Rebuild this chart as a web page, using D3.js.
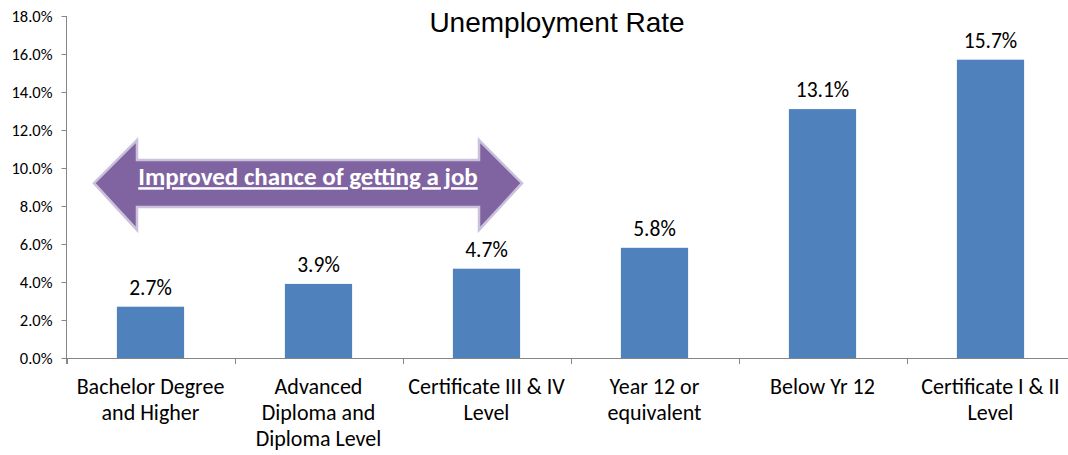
<!DOCTYPE html>
<html>
<head>
<meta charset="utf-8">
<script src="https://cdn.jsdelivr.net/npm/d3@7"></script>
<style>
  html, body { margin: 0; padding: 0; background: #fff; }
  svg { display: block; }
</style>
</head>
<body>
<svg id="chart" width="1068" height="455"></svg>
<script>
// Education level categories (line breaks mark label wrapping)
const categories = [
  "Bachelor Degree\nand Higher",
  "Advanced\nDiploma and\nDiploma Level",
  "Certificate III & IV\nLevel",
  "Year 12 or\nequivalent",
  "Below Yr 12",
  "Certificate I & II\nLevel"
];
// Unemployment rate per category
const rates = [0.027, 0.039, 0.047, 0.058, 0.131, 0.157];
// Y axis ticks
const yTicks = [0, 0.02, 0.04, 0.06, 0.08, 0.10, 0.12, 0.14, 0.16, 0.18];
const chartTitle = "Unemployment Rate";
const arrowText = "Improved chance of getting a job";

const svg = d3.select("#chart");
const W = 1068, H = 455;
const plotLeft = 66.5, plotTop = 16, plotBottom = 358;
const step = 168;

const x = d3.scaleBand()
  .domain(categories)
  .range([plotLeft, plotLeft + step * categories.length])
  .paddingInner(0.6)
  .paddingOuter(0.3);

const y = d3.scaleLinear()
  .domain([0, 0.18])
  .range([plotBottom, plotTop]);

const labelFont = "Carlito, Lato, 'Open Sans', sans-serif";

// Y axis
const yAxis = svg.append("g")
  .attr("transform", `translate(${plotLeft},0)`)
  .call(d3.axisLeft(y).tickValues(yTicks).tickFormat(d3.format(".1%")).tickSize(5).tickPadding(9));
yAxis.select(".domain").attr("stroke", "#868686").attr("d", `M0,${plotTop}V${plotBottom + 6}`);
yAxis.selectAll(".tick line").attr("stroke", "#868686");
yAxis.selectAll(".tick text")
  .attr("fill", "#000")
  .style("font-family", labelFont)
  .style("font-size", "16.5px");

// X axis baseline and category separators
const xAxis = svg.append("g").attr("class", "x-axis");
xAxis.append("line")
  .attr("x1", plotLeft).attr("x2", W)
  .attr("y1", plotBottom + 0.5).attr("y2", plotBottom + 0.5)
  .attr("stroke", "#868686");
xAxis.selectAll("line.sep")
  .data(d3.range(categories.length + 1))
  .join("line")
  .attr("class", "sep")
  .attr("x1", i => Math.round(x.range()[0] + i * x.step()) + 0.5)
  .attr("x2", i => Math.round(x.range()[0] + i * x.step()) + 0.5)
  .attr("y1", plotBottom).attr("y2", plotBottom + 6)
  .attr("stroke", "#868686");

// Bars
svg.append("g")
  .selectAll("rect")
  .data(categories)
  .join("rect")
  .attr("x", (d) => x(d))
  .attr("width", x.bandwidth())
  .attr("y", (d, i) => y(rates[i]))
  .attr("height", (d, i) => plotBottom - y(rates[i]))
  .attr("fill", "#4F81BD");

// Value labels
svg.append("g")
  .selectAll("text")
  .data(categories)
  .join("text")
  .attr("x", (d) => x(d) + x.bandwidth() / 2)
  .attr("y", (d, i) => y(rates[i]) - 12)
  .attr("text-anchor", "middle")
  .style("font-family", labelFont)
  .style("font-size", "21.5px")
  .attr("fill", "#000")
  .text((d, i) => d3.format(".1%")(rates[i]));

// Category labels
const catG = svg.append("g");
categories.forEach((c) => {
  const t = catG.append("text")
    .attr("x", x(c) + x.bandwidth() / 2)
    .attr("y", 394)
    .attr("text-anchor", "middle")
    .style("font-family", labelFont)
    .style("font-size", "22px")
    .attr("fill", "#000");
  c.split("\n").forEach((line, j) => {
    t.append("tspan")
      .attr("x", x(c) + x.bandwidth() / 2)
      .attr("dy", j === 0 ? 0 : 26)
      .text(line);
  });
});

// Title
svg.append("text")
  .attr("x", 557)
  .attr("y", 32)
  .attr("text-anchor", "middle")
  .style("font-family", "'Liberation Sans', Arial, sans-serif")
  .style("font-size", "28px")
  .attr("fill", "#000")
  .text(chartTitle);

// Double-headed arrow annotation
const ax0 = 94, ax1 = 522, headW = 43;
const cy = y(0.092);
const headTop = y(0.1147), headBot = y(0.0674);
const shaftTop = y(0.1042), shaftBot = y(0.0795);
const arrowPath = d3.path();
arrowPath.moveTo(ax0, cy);
arrowPath.lineTo(ax0 + headW, headTop);
arrowPath.lineTo(ax0 + headW, shaftTop);
arrowPath.lineTo(ax1 - headW, shaftTop);
arrowPath.lineTo(ax1 - headW, headTop);
arrowPath.lineTo(ax1, cy);
arrowPath.lineTo(ax1 - headW, headBot);
arrowPath.lineTo(ax1 - headW, shaftBot);
arrowPath.lineTo(ax0 + headW, shaftBot);
arrowPath.lineTo(ax0 + headW, headBot);
arrowPath.closePath();
svg.append("path")
  .attr("d", arrowPath.toString())
  .attr("fill", "#8064A2")
  .attr("stroke", "#CCC1DA")
  .attr("stroke-width", 2.5)
  .attr("stroke-linejoin", "miter");

svg.append("text")
  .attr("x", (ax0 + ax1) / 2)
  .attr("y", cy + 2)
  .attr("text-anchor", "middle")
  .style("font-family", labelFont)
  .style("font-size", "25px")
  .style("font-weight", "bold")
  .style("text-decoration", "underline")
  .attr("fill", "#fff")
  .text(arrowText);
</script>
</body>
</html>
